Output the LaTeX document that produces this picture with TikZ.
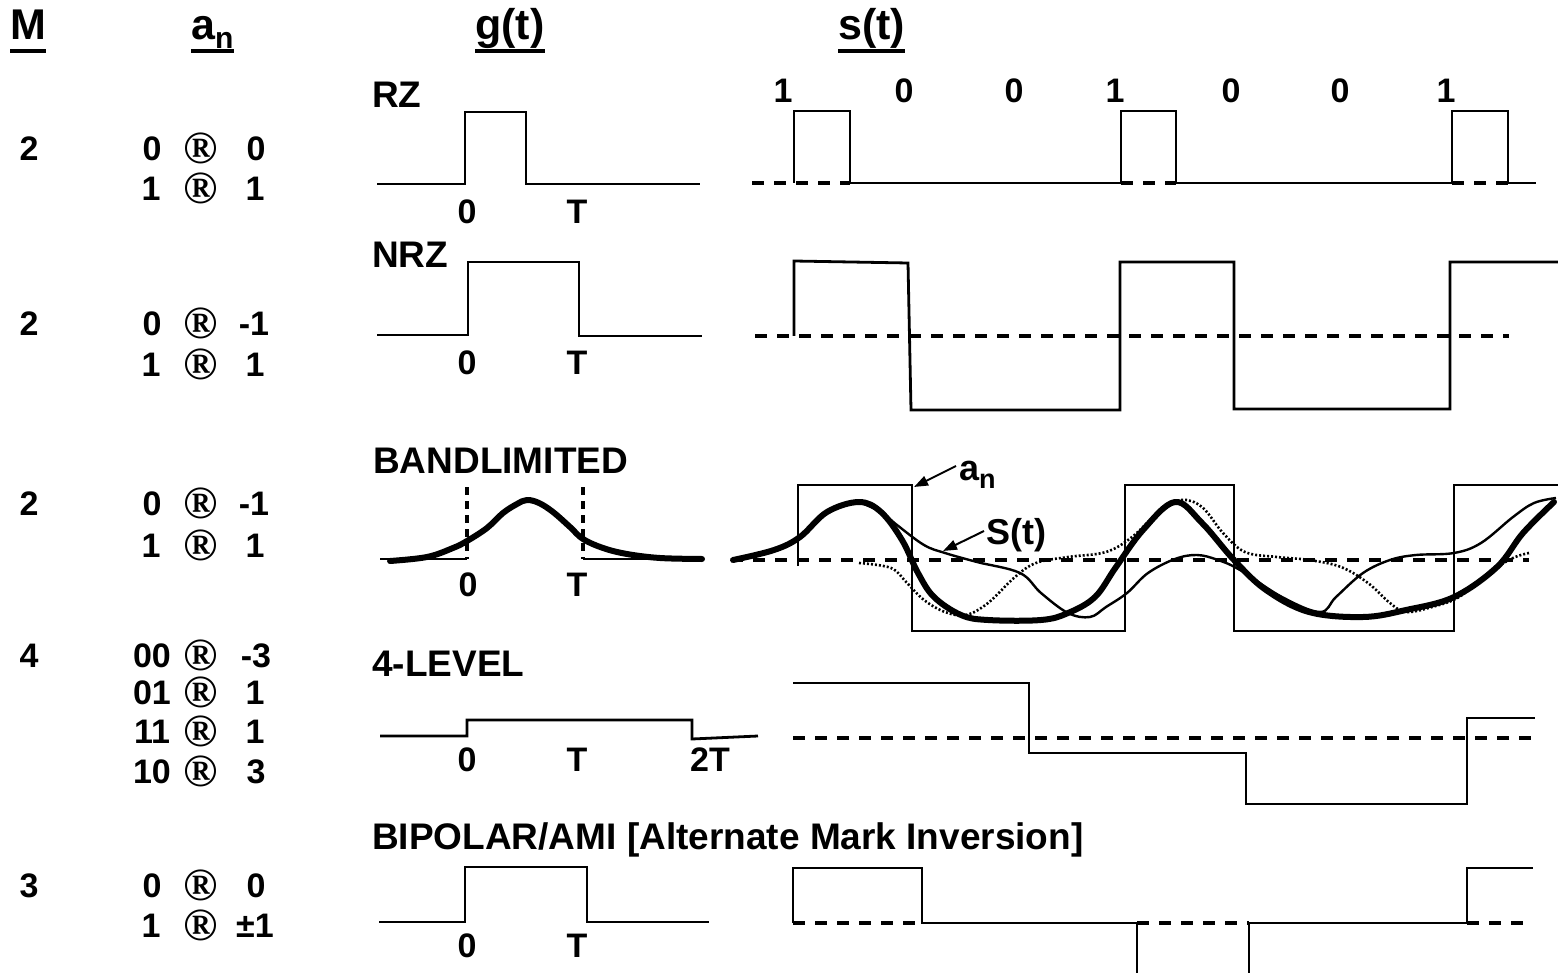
\documentclass[tikz,border=0pt]{standalone}
\usepackage{fontspec}
\setmainfont{Liberation Sans}
\newfontfamily\serifR{Liberation Serif}
\usetikzlibrary{arrows.meta}
\begin{document}
\begin{tikzpicture}[x=1pt,y=-1pt,
  hdr/.style={font=\fontsize{43}{48}\selectfont\bfseries, inner sep=0, anchor=base west},
  num/.style={font=\fontsize{34}{38}\selectfont\bfseries, inner sep=0, text height=24pt, text depth=0pt},
  regs/.style={font=\serifR\bfseries\fontsize{46}{48}\selectfont, inner sep=0, text height=22pt, text depth=0pt, yshift=-4pt},
  lbl/.style={font=\fontsize{37}{42}\selectfont\bfseries, inner sep=0, anchor=west, text height=26pt, text depth=0pt},
  ul/.style={line width=3.5pt},
  sig/.style={line width=2.8pt, line join=miter},
  thinsig/.style={line width=2.4pt, line join=miter},
  basel/.style={line width=4pt, dash pattern=on 12pt off 10pt},
  vdash/.style={line width=3.5pt, dash pattern=on 8pt off 6pt},
  thickc/.style={line width=6pt, line cap=round, line join=round},
  thinc/.style={line width=2.4pt, line join=round},
  dotc/.style={line width=2.6pt, dash pattern=on 2pt off 2pt},
  arr/.style={line width=2pt, -{Triangle[length=14pt,width=10pt]}}
]
\fill[white] (0,0) rectangle (1558,973);
\useasboundingbox (0,0) rectangle (1558,973);

% ---------- headers ----------
\node[hdr] (hM) at (10,40) {M};
\node[hdr] (hA) at (191,40) {a\raisebox{-9pt}{\fontsize{30}{30}\selectfont n}};
\node[hdr] (hG) at (475,40) {g(t)};
\node[hdr] (hS) at (838,40) {s(t)};
\draw[ul] ([yshift=-11pt]hM.base west) -- ([yshift=-11pt]hM.base east);
\draw[ul] ([yshift=-11pt]hA.base west) -- ([yshift=-11pt]hA.base east);
\draw[ul] ([yshift=-11pt]hG.base west) -- ([yshift=-11pt]hG.base east);
\draw[ul] ([yshift=-11pt]hS.base west) -- ([yshift=-11pt]hS.base east);

% ---------- row 1: RZ ----------
\node[num] (m1) at (29,148.5) {2};
\node[num] (r1a) at (152,148.5) {0};
\node[regs] (r1b) at (201,148.5) {®};
\node[num] (r1c) at (256,148.5) {0};
\node[num] (r1d) at (151,188.5) {1};
\node[regs] (r1e) at (201,188.5) {®};
\node[num] (r1f) at (255,188.5) {1};
\node[lbl] (lRZ) at (372,94.5) {RZ};
\draw[sig] (377,184) -- (465,184) -- (465,112) -- (526,112) -- (526,184) -- (700,184);
\node[num] (g1z) at (467,211.5) {0};
\node[num] (g1t) at (577,211.5) {T};
\draw[basel] (752,183) -- (850,183);
\draw[basel] (1121,183) -- (1176,183);
\draw[basel] (1452,183) -- (1508,183);
\draw[sig] (794,183) -- (794,111) -- (850,111) -- (850,183) -- (1121,183) -- (1121,111)
  -- (1176,111) -- (1176,183) -- (1452,183) -- (1452,111) -- (1508,111) -- (1508,183) -- (1536,183);
\node[num] (b1) at (783,91) {1};
\node[num] (b2) at (904,91) {0};
\node[num] (b3) at (1014,91) {0};
\node[num] (b4) at (1115,91) {1};
\node[num] (b5) at (1231,91) {0};
\node[num] (b6) at (1340,91) {0};
\node[num] (b7) at (1446,91) {1};

% ---------- row 2: NRZ ----------
\node[num] (m2) at (29,323.5) {2};
\node[num] (r2a) at (152,323.5) {0};
\node[regs] (r2b) at (201,323.5) {®};
\node[num] (r2c) at (254,323.5) {-1};
\node[num] (r2d) at (151,365) {1};
\node[regs] (r2e) at (201,365) {®};
\node[num] (r2f) at (255,365) {1};
\node[lbl] (lNRZ) at (372,254.5) {NRZ};
\draw[sig] (377,335) -- (468,335) -- (468,262) -- (579,262) -- (579,336) -- (702,336);
\node[num] (g2z) at (467,362.5) {0};
\node[num] (g2t) at (577,362.5) {T};
\draw[basel] (755,336) -- (1509,336);
\draw[sig] (794,336) -- (794,261) -- (908,263) -- (911,410) -- (1120,410) -- (1120,262)
  -- (1234,262) -- (1234,409) -- (1450,409) -- (1450,262) -- (1558,262);

% ---------- row 3: BANDLIMITED ----------
\node[num] (m3) at (29,503.5) {2};
\node[num] (r3a) at (152,503.5) {0};
\node[regs] (r3b) at (201,503.5) {®};
\node[num] (r3c) at (254,503.5) {-1};
\node[num] (r3d) at (151,545) {1};
\node[regs] (r3e) at (201,545) {®};
\node[num] (r3f) at (255,545) {1};
\node[lbl] (lBL) at (373,460) {BANDLIMITED};
\draw[sig] (380,559) -- (467,559);
\draw[sig] (583,559) -- (702,559);
\draw[vdash] (467,487) -- (467,559);
\draw[vdash] (583,487) -- (583,559);
\draw[thickc] plot[smooth, tension=0.6] coordinates {(390,561) (427,557) (453,548) (467,541) (487,528)
  (503,513) (517,504) (527,500) (539,503) (553,512) (570,527) (583,539) (603,548) (627,554) (660,558) (702,559)};
\node[num] (g3z) at (468,584.5) {0};
\node[num] (g3t) at (577,584.5) {T};
\draw[basel] (731,560) -- (1529,560);
\draw[thinsig] (798,566) -- (798,485) -- (912,485) -- (912,631) -- (1125,631) -- (1125,485)
  -- (1234,485) -- (1234,631) -- (1454,631) -- (1454,485) -- (1558,485);
\draw[thickc] plot[smooth, tension=0.6] coordinates {(733,560) (774,550) (800,537) (827,512) (859,502)
  (881,512) (902,540) (918,573) (934,597) (961,615) (988,620) (1041,620) (1068,613) (1095,597)
  (1116,567) (1143,530) (1175,502) (1202,523) (1234,560) (1266,590) (1309,612) (1363,617)
  (1406,610) (1454,597) (1497,567) (1523,533) (1554,502)};
\draw[thinc] plot[smooth, tension=0.6] coordinates {(859,502) (881,512) (897,525) (924,545) (945,553)
  (977,562) (1020,573) (1041,593) (1068,613) (1090,617) (1106,607) (1127,593) (1148,573)
  (1175,559) (1197,555) (1218,560) (1240,570) (1282,597) (1320,612) (1336,597) (1363,573)
  (1390,560) (1416,555) (1454,553) (1481,543) (1513,517) (1534,503) (1556,498)};
\draw[dotc] plot[smooth, tension=0.6] coordinates {(859,563) (891,568) (907,583) (924,600) (945,612)
  (966,615) (988,603) (1015,577) (1036,563) (1068,557) (1106,552) (1132,537) (1159,512)
  (1181,500) (1202,507) (1223,533) (1245,552) (1277,557) (1309,560) (1341,567) (1368,583)
  (1390,603) (1406,612) (1432,607) (1459,597) (1490,572) (1513,558) (1529,553)};
\node[font=\fontsize{36}{40}\selectfont\bfseries, inner sep=0, anchor=base west] (lan) at (959,480)
  {a\raisebox{-8pt}{\fontsize{27}{27}\selectfont n}};
\coordinate (anTip) at (914,487);
\draw[arr] (956,466) -- (anTip);
\node[num, anchor=west, font=\fontsize{36}{40}\selectfont\bfseries] (lst) at (986,532) {S(t)};
\coordinate (stTip) at (943,551);
\draw[arr] (984,531) -- (stTip);

% ---------- row 4: 4-LEVEL ----------
\node[num] (m4) at (29,655) {4};
\node[num] (r4a) at (152,655) {00};
\node[regs] (r4b) at (201,655) {®};
\node[num] (r4c) at (256,655) {-3};
\node[num] (r4d) at (152,692) {01};
\node[regs] (r4e) at (201,692) {®};
\node[num] (r4f) at (255,692) {1};
\node[num] (r4g) at (152,731) {11};
\node[regs] (r4h) at (201,731) {®};
\node[num] (r4i) at (255,731) {1};
\node[num] (r4j) at (152,771) {10};
\node[regs] (r4k) at (201,771) {®};
\node[num] (r4l) at (256,771) {3};
\node[lbl] (l4L) at (372,663) {4-LEVEL};
\draw[sig] (380,736) -- (467,736) -- (467,720) -- (692,720) -- (692,739) -- (758,736);
\node[num] (g4z) at (467,759) {0};
\node[num] (g4t) at (577,759) {T};
\node[num] (g4tt) at (710,759) {2T};
\draw[basel] (793,738) -- (1538,738);
\draw[sig] (793,683) -- (1029,683) -- (1029,753) -- (1246,753) -- (1246,804) -- (1467,804)
  -- (1467,718) -- (1535,718);

% ---------- row 5: BIPOLAR/AMI ----------
\node[num] (m5) at (29,885) {3};
\node[num] (r5a) at (152,885) {0};
\node[regs] (r5b) at (201,885) {®};
\node[num] (r5c) at (256,885) {0};
\node[num] (r5d) at (151,925) {1};
\node[regs] (r5e) at (201,925) {®};
\node[num] (r5f) at (255,925) {±1};
\node[lbl] (lBP) at (372,836) {BIPOLAR/AMI [Alternate Mark Inversion]};
\draw[sig] (379,922) -- (465,922) -- (465,867) -- (587,867) -- (587,922) -- (709,922);
\node[num] (g5z) at (467,945.5) {0};
\node[num] (g5t) at (577,945.5) {T};
\draw[basel] (793,923) -- (922,923);
\draw[basel] (1137,923) -- (1249,923);
\draw[basel] (1467,923) -- (1530,923);
\draw[sig] (793,923) -- (793,868) -- (922,868) -- (922,923) -- (1137,923) -- (1137,975);
\draw[sig] (1249,975) -- (1249,923) -- (1467,923) -- (1467,868) -- (1533,868);
\end{tikzpicture}
\end{document}
